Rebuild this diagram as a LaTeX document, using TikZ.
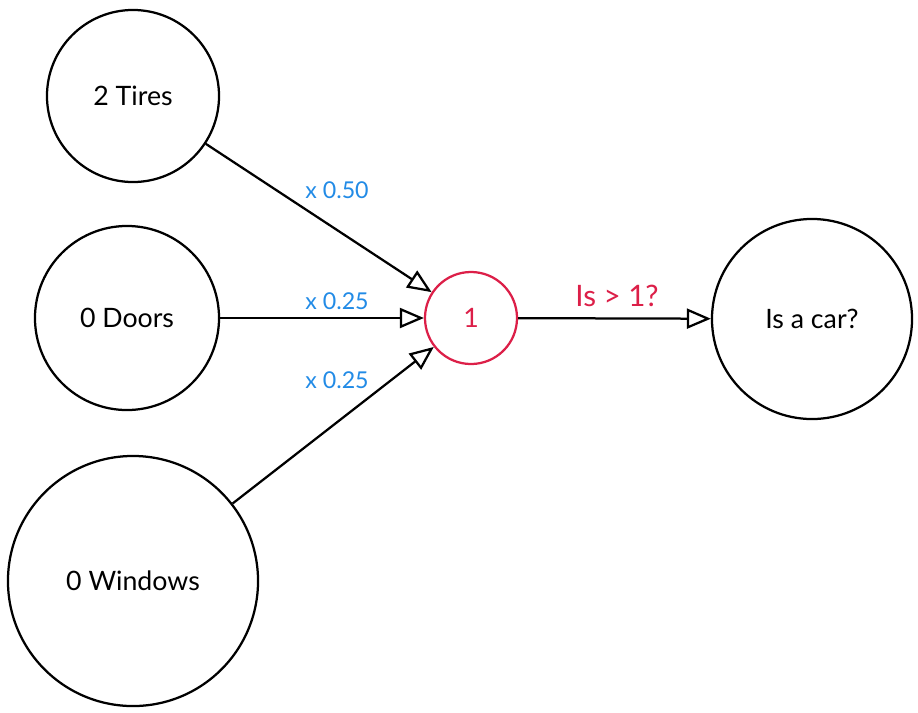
\documentclass[tikz,border=0pt]{standalone}
\usepackage{fontspec}
\setmainfont{Lato}
\usetikzlibrary{arrows.meta,positioning}
\definecolor{nnblue}{HTML}{228BE6}
\definecolor{nnred}{HTML}{DC1F48}

\begin{document}
\begin{tikzpicture}[x=0.025cm, y=-0.025cm,
    neuron/.style={draw, circle, line width=1.6pt, font=\fontsize{19}{22}\selectfont},
    link/.style={line width=1.6pt, -{Triangle[open, length=6mm, width=5mm]}},
    weight/.style={text=nnblue, font=\fontsize{16.5}{19}\selectfont}]
      \useasboundingbox (0,0) rectangle (918,712);

      % Nodes
      \node[neuron, minimum size=4.3cm] (tires) at (133,96) {2 Tires};
      \node[neuron, minimum size=4.6cm] (doors) at (127,318) {0 Doors};
      \node[neuron, minimum size=6.25cm] (windows) at (133,581) {0 Windows};
      \node[neuron, draw=nnred, text=nnred, minimum size=2.3cm] (sum) at (471,318) {1};
      \node[neuron, minimum size=5cm] (car) at (812,319) {Is a car?};

      % Arrows
      \draw[link] (tires) -- (sum);
      \draw[link] (doors) -- (sum);
      \draw[link] (windows) -- (sum);
      \draw[link] (sum) -- (car);

      % Annotations
      \node[weight] (wtires) at (337,190) {x 0.50};
      \node[weight] (wdoors) at (337,301) {x 0.25};
      \node[weight] (wwindows) at (337,380) {x 0.25};
      \node[text=nnred, font=\fontsize{21}{24}\selectfont] (test) at (617,296) {Is > 1?};
    \end{tikzpicture}
\end{document}
